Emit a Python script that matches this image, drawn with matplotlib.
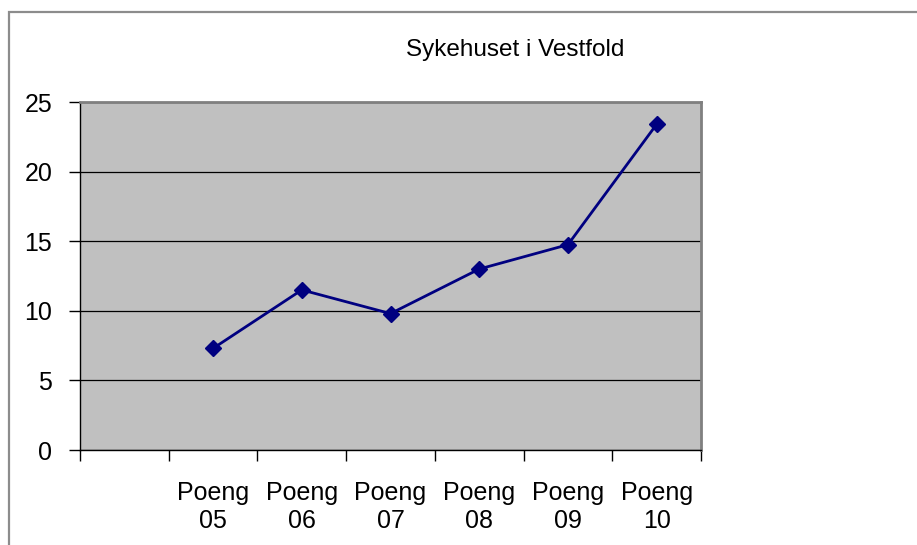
import numpy as np
import matplotlib
matplotlib.use("Agg")
import matplotlib.pyplot as plt
from matplotlib.patches import Rectangle

plt.rcParams['font.family'] = ['Liberation Sans', 'DejaVu Sans']

# Chart data
title = "Sykehuset i Vestfold"
categories = ["Poeng\n05", "Poeng\n06", "Poeng\n07", "Poeng\n08", "Poeng\n09", "Poeng\n10"]
values = [7.3, 11.5, 9.8, 13.0, 14.75, 23.4]
y_ticks = [0, 5, 10, 15, 20, 25]

W, H = 917, 545
fig = plt.figure(figsize=(W / 100, H / 100), dpi=100)

# outer chart frame (cropped on right and bottom)
fig.patches.append(Rectangle((9 / W, -0.1), 1.2, 1.1 - 12 / H,
                             transform=fig.transFigure, fill=False,
                             edgecolor='#8c8c8c', linewidth=1.6))

left, right, top, bottom = 80, 701, 102, 450
ax = fig.add_axes([left / W, 1 - bottom / H, (right - left) / W, (bottom - top) / H])
ax.set_facecolor('#c0c0c0')

# first category slot is blank, data sits in slots 1..6
x = np.arange(1, len(values) + 1)
ax.plot(x, values, color='#000080', linewidth=2, marker='D', markersize=8.5,
        markeredgecolor='#000080', markerfacecolor='#000080', zorder=3)

ax.set_xlim(-0.5, len(values) + 0.5)
ax.set_ylim(0, 25)
ax.set_yticks(y_ticks)
ax.yaxis.grid(True, color='black', linewidth=0.9)
ax.set_axisbelow(True)

# category boundaries get tick marks, centres get labels
ax.set_xticks(np.arange(-0.5, len(values) + 1, 1.0))
ax.set_xticklabels([])
ax.set_xticks(x, minor=True)
ax.set_xticklabels(categories, minor=True, fontsize=18, linespacing=1.25)
ax.tick_params(axis='x', which='major', direction='out', length=8, width=1, color='black')
ax.tick_params(axis='x', which='minor', length=0, pad=22)
ax.tick_params(axis='y', direction='out', length=8, width=1, labelsize=18, pad=12)

for side in ['top', 'right']:
    ax.spines[side].set_color('#808080')
    ax.spines[side].set_linewidth(2)
for side in ['left', 'bottom']:
    ax.spines[side].set_color('black')
    ax.spines[side].set_linewidth(1)

fig.text(515 / W, 1 - 50 / H, title, ha='center', va='center', fontsize=17.5)

fig.savefig('out.png', dpi=100)
